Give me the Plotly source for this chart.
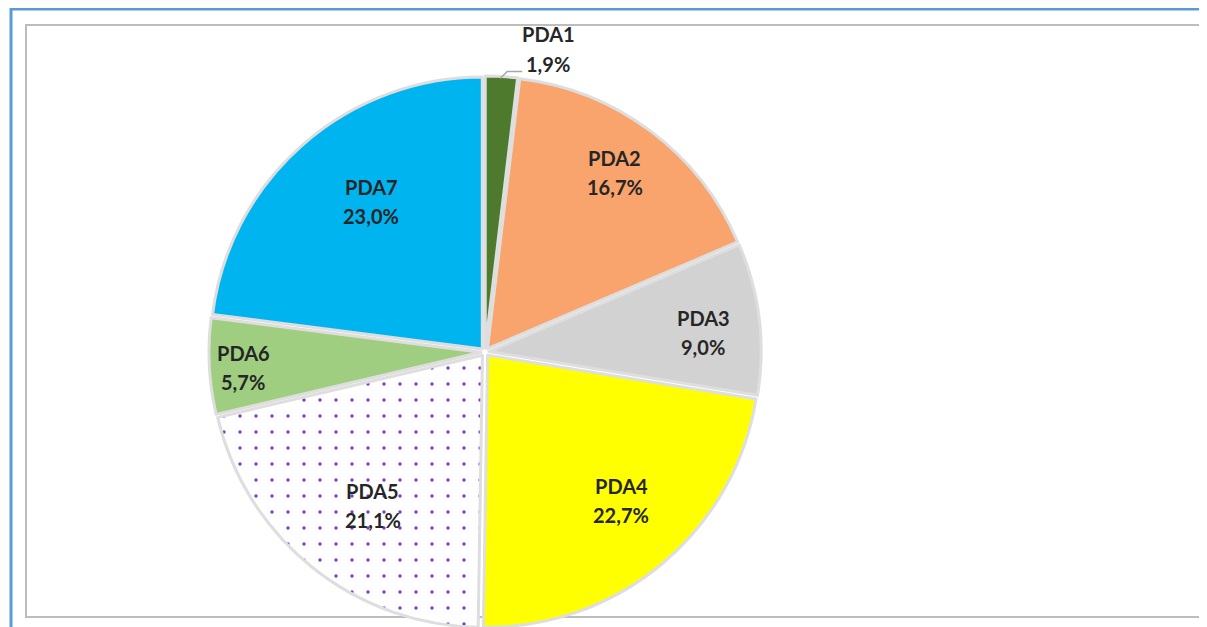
import math
import plotly.graph_objects as go

# page body has an 8px margin: figure pixel = reference pixel - 8
OFF = 8
FW, FH = 1199, 680

labels = ["PDA1", "PDA2", "PDA3", "PDA4", "PDA5", "PDA6", "PDA7"]
values = [1.9, 16.7, 9.0, 22.7, 21.1, 5.7, 23.0]
value_text = ["1,9%", "16,7%", "9,0%", "22,7%", "21,1%", "5,7%", "23,0%"]
colors = ["#4E7A2E", "#F8A46C", "#D2D2D2", "#FFFF00", "#FFFFFF", "#9FCE80", "#00B4F0"]
patterns = ["", "", "", "", ".", "", ""]
# label placement style: radius fraction and angular nudge (degrees)
label_radius = [1.0, 0.815, 0.805, 0.74, 0.70, 0.89, 0.695]
label_nudge = [0, -1.0, 1.7, -2.6, -2.8, -0.8, 4.3]

def px(x):
    return (x - OFF) / FW

def py(y):
    return 1 - (y - OFF) / FH

cx, cy, R = 485, 352, 272
half = R * 1.015
fig = go.Figure(go.Pie(
    labels=labels,
    values=values,
    textinfo="none",
    sort=False,
    direction="clockwise",
    rotation=0,
    pull=[0.015] * 7,
    marker=dict(colors=colors,
                line=dict(color="#DEDEDE", width=3),
                pattern=dict(shape=patterns, fgcolor="#7B3FC4", bgcolor="#FFFFFF",
                             size=16, solidity=0.035)),
    domain=dict(x=[px(cx - half), px(cx + half)], y=[py(cy + half), py(cy - half)]),
    showlegend=False,
    hoverinfo="label+percent",
))

font = dict(family="Lato, 'Open Sans', sans-serif", size=20, color="#262626")
annotations = []
shapes = []
total = sum(values)
cum = 0.0

def label(x, y, lab, vt, gap):
    for txt, sh in ((lab, gap), (vt, -gap)):
        annotations.append(dict(x=px(x), y=py(y), xref="paper", yref="paper",
                                xanchor="center", yanchor="middle",
                                text=f"<b>{txt}</b>", showarrow=False, font=font, yshift=sh))

for i, (lab, val, vt) in enumerate(zip(labels, values, value_text)):
    mid = (cum + val / 2) / total * 2 * math.pi + math.radians(label_nudge[i])
    cum += val
    r = R * label_radius[i]
    x = cx + r * math.sin(mid)
    y = cy - r * math.cos(mid)
    if i == 0:
        # outside label with leader line
        ex, ey = x, y
        shapes.append(dict(type="path", xref="paper", yref="paper",
                           path=f"M {px(ex - 1)},{py(ey - 2)} L {px(ex + 6)},{py(ey - 9)} L {px(ex + 21)},{py(ey - 9)}",
                           line=dict(color="#A6A6A6", width=1.5)))
        label(ex + 47, ey - 31.5, lab, vt, 15)
    else:
        label(x, y, lab, vt, 14.5)

shapes += [
    # outer blue frame (top and left)
    dict(type="line", xref="paper", yref="paper", x0=px(10), x1=1, y0=py(9), y1=py(9),
         line=dict(color="#5B9BD5", width=3), layer="below"),
    dict(type="line", xref="paper", yref="paper", x0=px(11), x1=px(11), y0=py(8), y1=0,
         line=dict(color="#5B9BD5", width=3), layer="below"),
    # inner chart area border
    dict(type="rect", xref="paper", yref="paper", x0=px(26), x1=px(1205), y0=py(617), y1=py(25),
         line=dict(color="#BDBDBD", width=2), fillcolor="rgba(0,0,0,0)", layer="below"),
]

fig.update_layout(
    width=FW, height=FH,
    margin=dict(l=0, r=0, t=0, b=0),
    paper_bgcolor="#FFFFFF",
    plot_bgcolor="#FFFFFF",
    shapes=shapes,
    annotations=annotations,
)

fig.write_html("out.html")
